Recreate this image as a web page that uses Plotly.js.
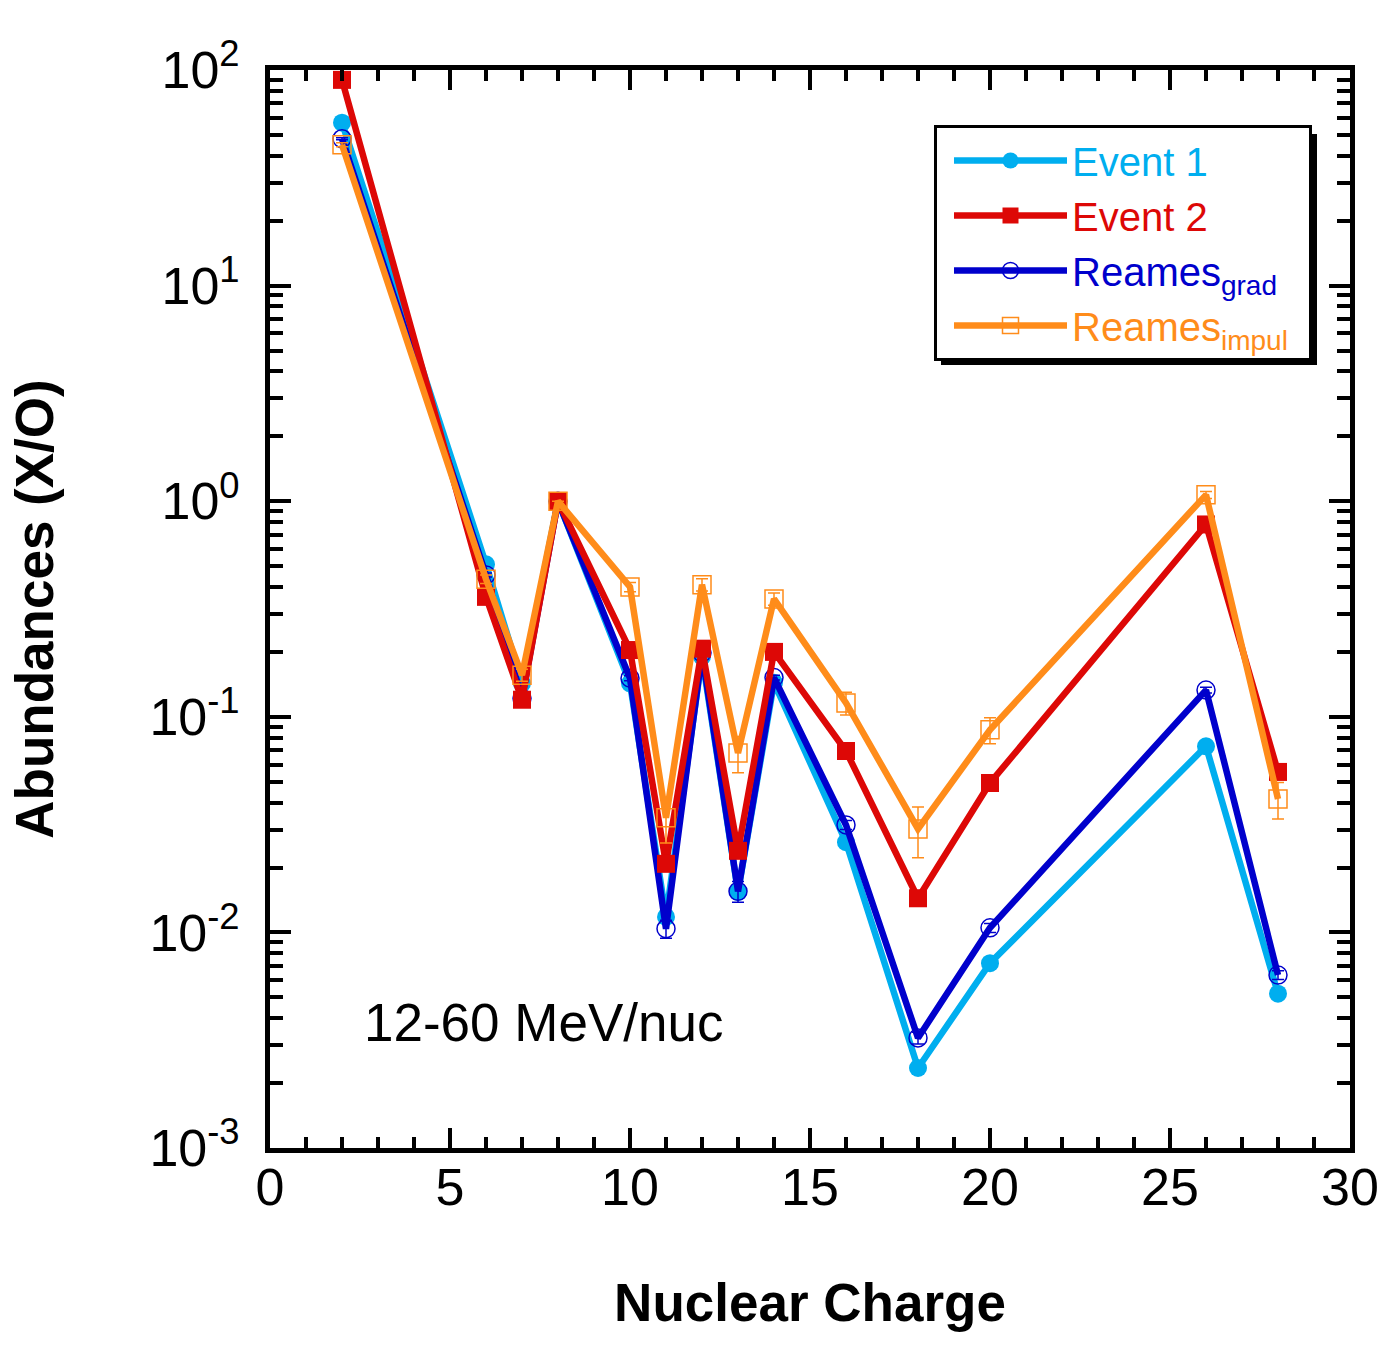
<!DOCTYPE html>
<html>
<head>
<meta charset="utf-8">
<script src="https://cdn.plot.ly/plotly-3.0.1.min.js"></script>
<style>body{margin:0;background:#fff;} #chart{width:1395px;height:1353px;}</style>
</head>
<body>
<div id="chart"></div>
<script>
// Nuclear charge Z of each measured element
const charge = [2, 6, 7, 8, 10, 11, 12, 13, 14, 16, 18, 20, 26, 28];

// Abundances relative to oxygen (X/O)
const event1      = [57, 0.51, 0.143, 1.0, 0.143, 0.0118, 0.19, 0.0154, 0.144, 0.0262, 0.00235, 0.0072, 0.073, 0.0052];
const event2      = [90, 0.36, 0.12, 1.0, 0.204, 0.0208, 0.207, 0.0239, 0.200, 0.0694, 0.0144, 0.0493, 0.78, 0.0555];
const reamesGrad  = [48, 0.455, 0.122, 1.0, 0.151, 0.0104, 0.198, 0.0155, 0.152, 0.0315, 0.00324, 0.0105, 0.133, 0.00634];
const reamesImpul = [45, 0.435, 0.156, 1.0, 0.40, 0.034, 0.41, 0.068, 0.352, 0.116, 0.0302, 0.087, 1.07, 0.0416];

// Error bars (absolute)
const reamesGradErr  = [0.5, 0.01, 0.004, 0, 0.004, 0.001, 0.005, 0.0017, 0.004, 0.0015, 0.0002, 0.0005, 0.004, 0.0003];
const reamesImpulErr = [1.0, 0.02, 0.01, 0, 0.02, 0.008, 0.027, 0.013, 0.023, 0.014, 0.008, 0.012, 0.04, 0.008];

// Axis tick labels
const yTickVals = [0.001, 0.01, 0.1, 1, 10, 100];
const yTickText = ['10<sup>-3</sup>', '10<sup>-2</sup>', '10<sup>-1</sup>', '10<sup>0</sup>', '10<sup>1</sup>', '10<sup>2</sup>'];
const yMinorVals = [];
[0.001, 0.01, 0.1, 1, 10].forEach(function (d) {
  for (let k = 2; k <= 9; k++) yMinorVals.push(+(d * k).toPrecision(3));
});
const xTickVals = [0, 5, 10, 15, 20, 25, 30];
const xTickText = ['0', '5', '10', '15', '20', '25', '30'];

const C_LB = '#00AEEF', C_RED = '#DD0806', C_BLUE = '#0000CC', C_OR = '#FF8C1A';
const FONT = 'Liberation Sans, Arial, Helvetica, sans-serif';

const traces = [
  {
    x: charge, y: event1, type: 'scatter', mode: 'lines+markers',
    name: '<span style="color:' + C_LB + '">Event 1</span>',
    line: {color: C_LB, width: 6.5},
    marker: {symbol: 'circle', size: 18, color: C_LB},
    legendrank: 1
  },
  {
    x: charge, y: reamesGrad, type: 'scatter', mode: 'lines+markers',
    name: '<span style="color:' + C_BLUE + '">Reames<sub>grad</sub></span>',
    line: {color: C_BLUE, width: 6.5},
    marker: {symbol: 'circle-open', size: 18, color: C_BLUE, line: {width: 1.5, color: C_BLUE}},
    error_y: {type: 'data', array: reamesGradErr, visible: true, color: C_BLUE, thickness: 1.5, width: 6},
    legendrank: 3
  },
  {
    x: charge, y: event2, type: 'scatter', mode: 'lines+markers',
    name: '<span style="color:' + C_RED + '">Event 2</span>',
    line: {color: C_RED, width: 6.5},
    marker: {symbol: 'square', size: 18, color: C_RED},
    legendrank: 2
  },
  {
    x: charge, y: reamesImpul, type: 'scatter', mode: 'lines+markers',
    name: '<span style="color:' + C_OR + '">Reames<sub>impul&nbsp;&nbsp;</sub></span>',
    line: {color: C_OR, width: 6.5},
    marker: {symbol: 'square-open', size: 18, color: C_OR, line: {width: 1.5, color: C_OR}},
    error_y: {type: 'data', array: reamesImpulErr, visible: true, color: C_OR, thickness: 1.5, width: 6},
    legendrank: 4
  }
];

const L = 270, R = 45, T = 70, B = 205, W = 1395, H = 1353;
const pw = W - L - R, ph = H - T - B;
function px2x(p) { return (p - L) / pw; }
function px2y(p) { return (H - B - p) / ph; }

const layout = {
  width: W, height: H,
  margin: {l: L, r: R, t: T, b: B, pad: 0},
  paper_bgcolor: '#fff', plot_bgcolor: '#fff',
  font: {family: FONT, color: '#000', size: 52},
  showlegend: true,
  legend: {
    x: px2x(934), y: px2y(125), xanchor: 'left', yanchor: 'top',
    bgcolor: '#fff', bordercolor: '#000', borderwidth: 3,
    font: {family: FONT, size: 40},
    itemwidth: 113, indentation: 12, tracegroupgap: 0, traceorder: 'normal'
  },
  xaxis: {
    range: [0, 30], tickmode: 'array', tickvals: xTickVals, ticktext: xTickText,
    ticks: 'inside', ticklen: 20, tickwidth: 4, tickcolor: '#000',
    showline: true, linewidth: 5, linecolor: '#000', mirror: 'ticks',
    showgrid: false, zeroline: false, ticklabelstandoff: -10,
    tickfont: {family: FONT, size: 52, color: '#000'},
    minor: {tickmode: 'linear', tick0: 0, dtick: 1, ticks: 'inside', ticklen: 11, tickwidth: 4, tickcolor: '#000', showgrid: false},
    title: {text: '<b>Nuclear Charge</b>', font: {family: FONT, size: 53, color: '#000'}, standoff: 70}
  },
  yaxis: {
    type: 'log', range: [-3, 2], tickmode: 'array', tickvals: yTickVals, ticktext: yTickText,
    ticks: 'inside', ticklen: 21, tickwidth: 4, tickcolor: '#000',
    showline: true, linewidth: 5, linecolor: '#000', mirror: 'ticks',
    showgrid: false, zeroline: false, ticklabelstandoff: 15,
    tickfont: {family: FONT, size: 52, color: '#000'},
    minor: {tickmode: 'array', tickvals: yMinorVals, ticks: 'inside', ticklen: 13, tickwidth: 4, tickcolor: '#000', showgrid: false},
    title: {text: '<b>Abundances (X/O)</b>', font: {family: FONT, size: 53, color: '#000'}, standoff: 80}
  },
  shapes: [
    {type: 'rect', xref: 'paper', yref: 'paper',
     x0: px2x(941), x1: px2x(1317), y0: px2y(365), y1: px2y(134),
     fillcolor: '#000', line: {width: 0}, layer: 'above'}
  ],
  annotations: [
    {x: 2.55, y: -2.42, xref: 'x', yref: 'y', xanchor: 'left', yanchor: 'middle',
     text: '12-60 MeV/nuc', showarrow: false, font: {family: FONT, size: 53, color: '#000'}}
  ]
};

Plotly.newPlot('chart', traces, layout, {displayModeBar: false, staticPlot: true});
</script>
</body>
</html>
